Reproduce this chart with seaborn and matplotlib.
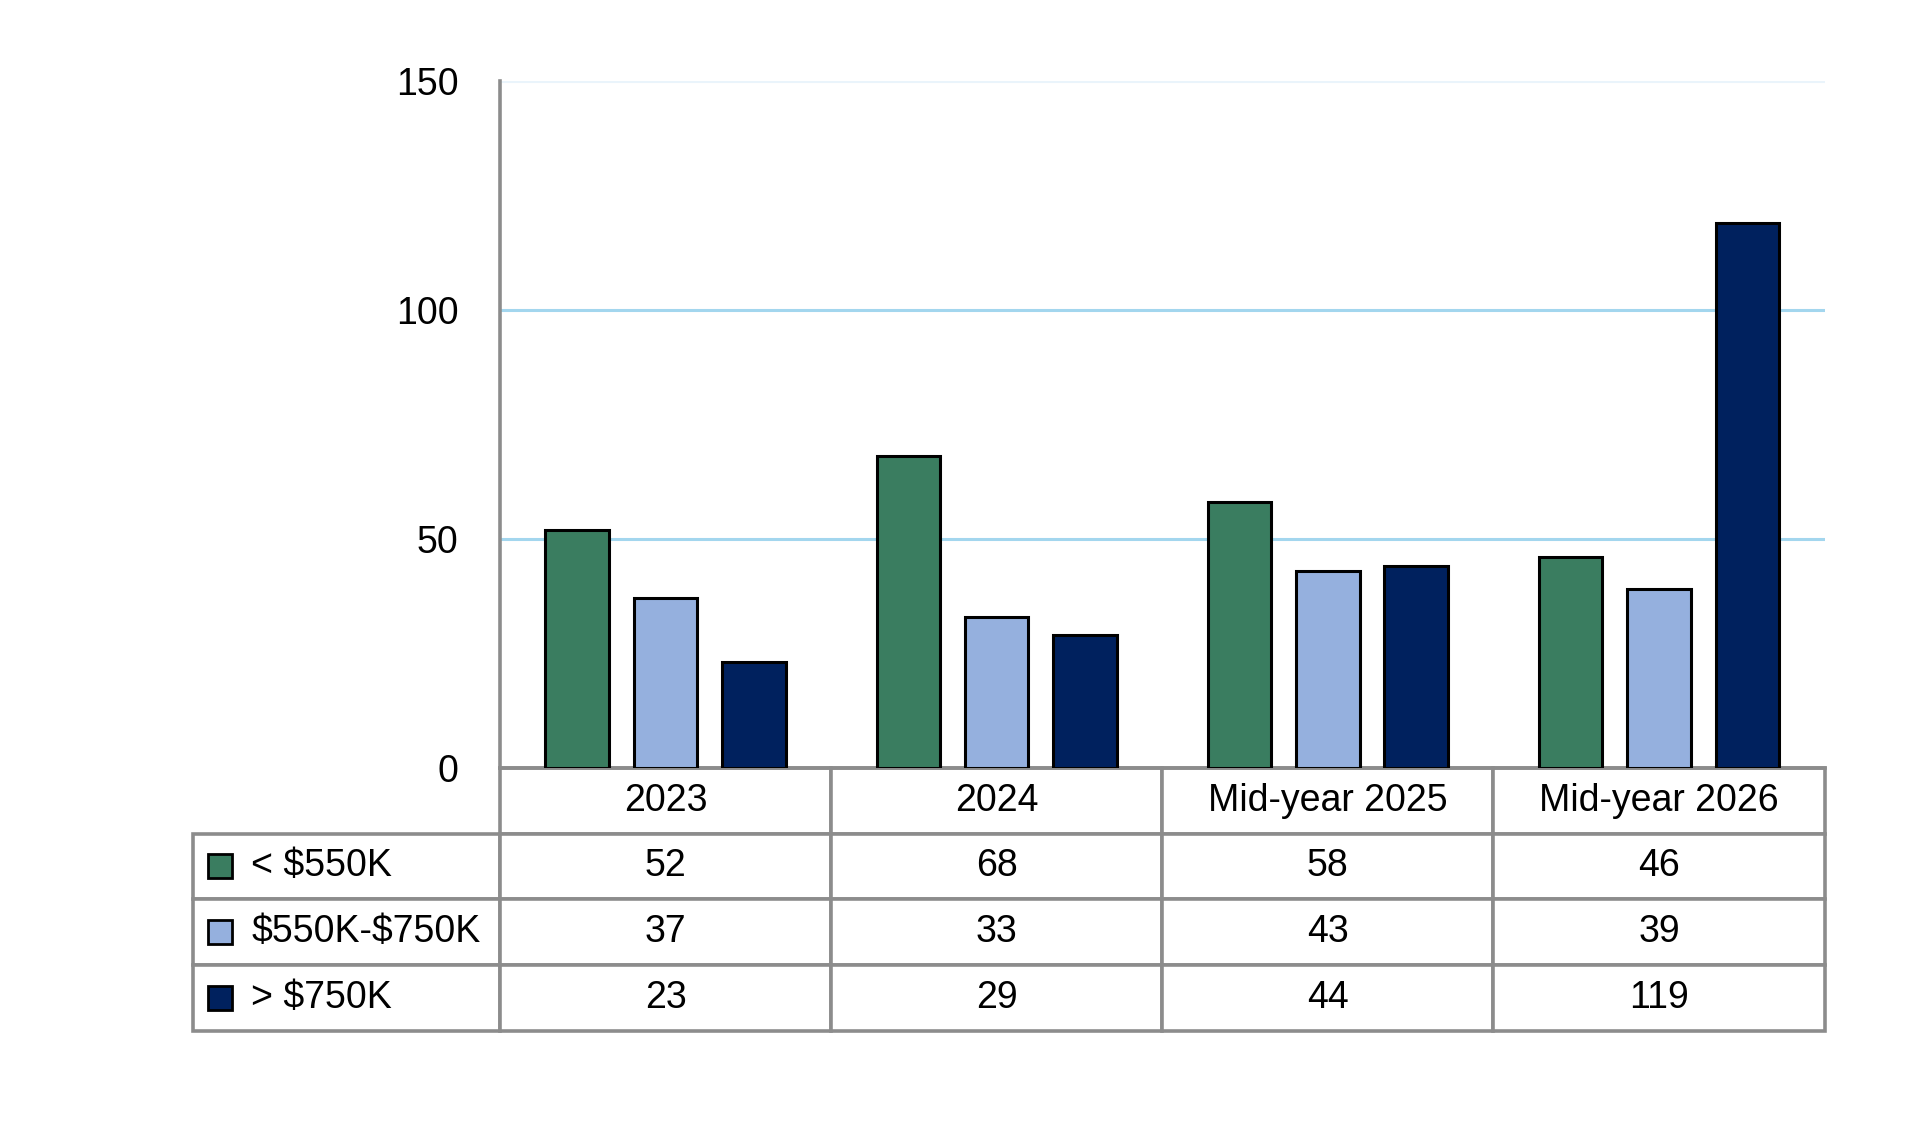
import pandas as pd
import matplotlib.pyplot as plt
import seaborn as sns
from matplotlib.patches import Rectangle
from matplotlib.table import Table

# chart data
periods = ["2023", "2024", "Mid-year 2025", "Mid-year 2026"]
price_bands = ["< $550K", "$550K-$750K", "> $750K"]
under_550k = [52, 68, 58, 46]
mid_550_750k = [37, 33, 43, 39]
over_750k = [23, 29, 44, 119]
band_colors = ["#3a7d60", "#95b0de", "#00215e"]
y_ticks = [0, 50, 100, 150]

series = [under_550k, mid_550_750k, over_750k]
df = pd.DataFrame(
    [(p, band, vals[i]) for band, vals in zip(price_bands, series) for i, p in enumerate(periods)],
    columns=["period", "band", "count"],
)

sns.set_style("white")
plt.rcParams["font.family"] = ["Liberation Sans", "DejaVu Sans"]
plt.rcParams["text.color"] = "black"

fig = plt.figure(figsize=(19.2, 11.45), dpi=100)
ax = fig.add_axes([0.2604, 0.3294, 0.6899, 0.600])

grid_col = "#a3d6ee"
for yv in y_ticks[1:]:
    ax.axhline(yv, color=grid_col if yv < 150 else "#eaf4fb", lw=2.2, zorder=0)

sns.barplot(
    data=df, x="period", y="count", hue="band", order=periods, hue_order=price_bands,
    palette=band_colors, saturation=1, edgecolor="black", linewidth=2.2, gap=0.28,
    legend=False, ax=ax, zorder=3,
)

ax.set_ylim(0, 150)
ax.set_yticks(y_ticks)
ax.set_xticks([])
ax.set_xlabel("")
ax.set_ylabel("")
ax.tick_params(axis="y", length=0, pad=30, labelsize=27, labelcolor="black")
for s in ["top", "right"]:
    ax.spines[s].set_visible(False)
for s in ["left", "bottom"]:
    ax.spines[s].set_color("#8c8c8c")
    ax.spines[s].set_linewidth(2.6)

# data table below the chart (bbox covers the data cells, labels sit to the left)
lab_w = 0.2318
tbl = Table(ax, bbox=[0, -0.3828, 1, 0.3828])
tbl.auto_set_font_size(False)
for c, p in enumerate(periods):
    tbl.add_cell(0, c, width=0.25, height=1, text=p, loc="center")
for r, (band, vals) in enumerate(zip(price_bands, series), start=1):
    lab = tbl.add_cell(r, -1, width=lab_w, height=1, text=band, loc="left")
    lab.PAD = 0.19
    for c, v in enumerate(vals):
        tbl.add_cell(r, c, width=0.25, height=1, text=str(v), loc="center")
for cell in tbl.get_celld().values():
    cell.set_edgecolor("#8c8c8c")
    cell.set_linewidth(2.6)
    cell.get_text().set_fontsize(27)
    cell.get_text().set_color("black")
    cell.get_text().set_parse_math(False)
ax.add_table(tbl)

# legend keys in the row label cells
W, H = 1920, 1145
row_tops = [833, 899, 965]
for top, col in zip(row_tops, band_colors):
    cy = top + 33
    fig.add_artist(Rectangle((208 / W, 1 - (cy + 12) / H), 24 / W, 24 / H,
                             transform=fig.transFigure, facecolor=col,
                             edgecolor="black", linewidth=2))

fig.savefig("out.png", dpi=100)
